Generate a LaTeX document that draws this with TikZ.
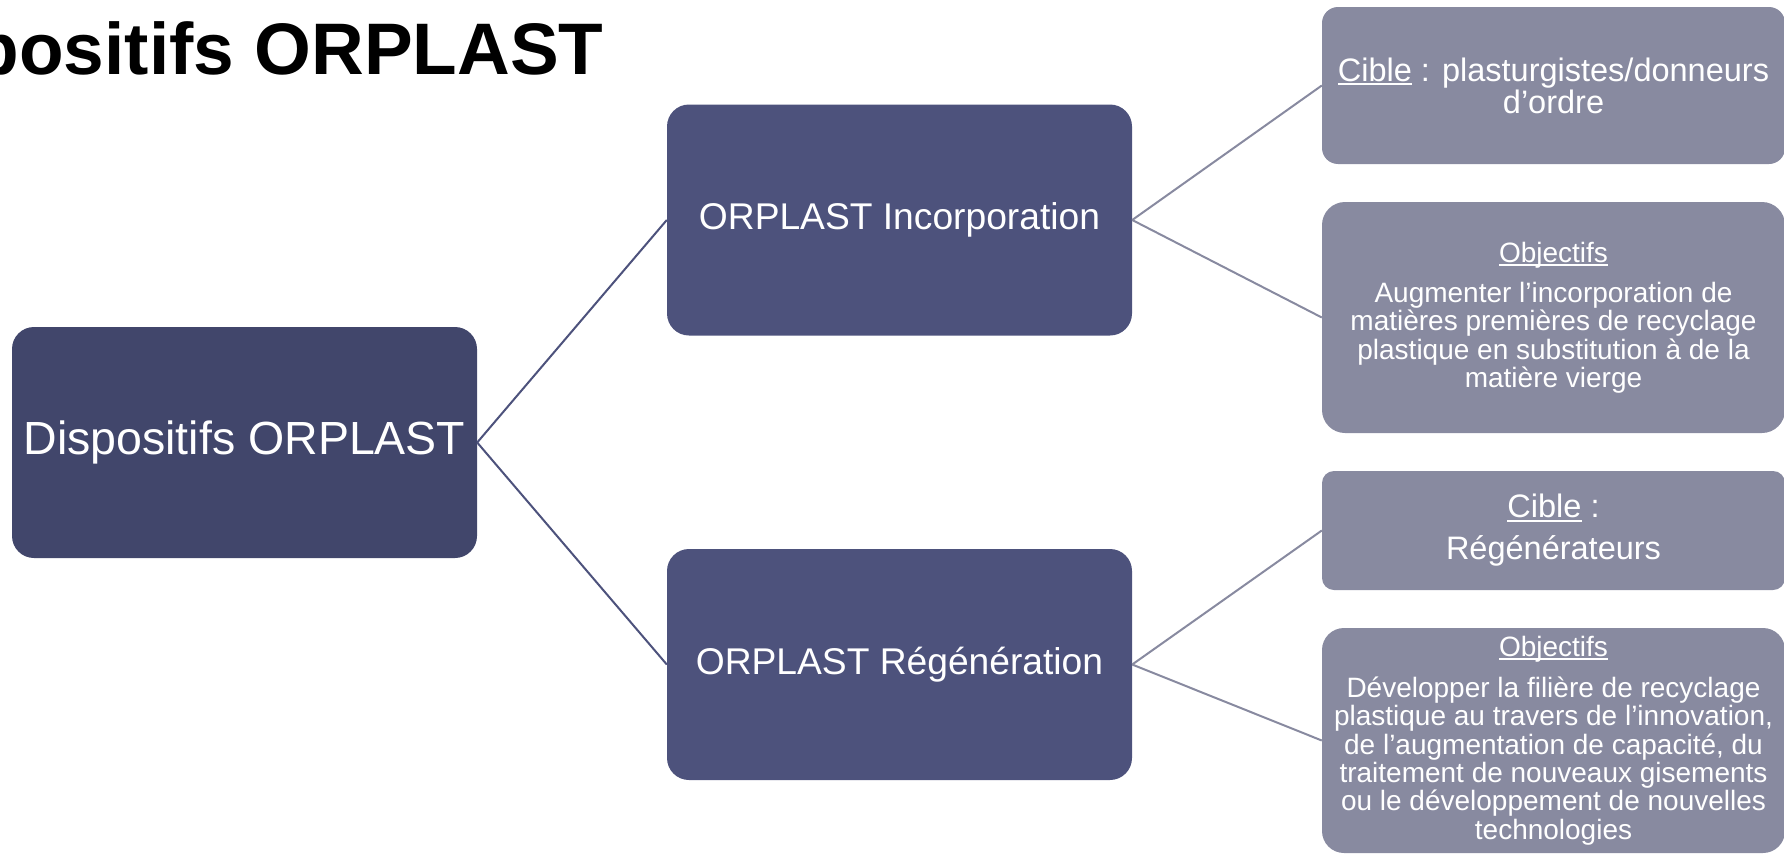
\documentclass[tikz,border=0pt]{standalone}
\usepackage{fontspec}
\setmainfont{Liberation Sans}
\usepackage{tikz}
\definecolor{rootcolor}{HTML}{41466B}
\definecolor{midcolor}{HTML}{4D527C}
\definecolor{leafcolor}{HTML}{888AA0}
\newcommand{\souligne}[1]{\setbox0\hbox{#1}\rlap{\rule[-0.13em]{\wd0}{0.06em}}\box0\relax}

\begin{document}
\begin{tikzpicture}[x=1pt,y=-1pt,
    box/.style={rounded corners=22pt,inner sep=0pt,align=center,text=white,minimum width=465pt,minimum height=231pt},
    leaf/.style={fill=leafcolor,rounded corners=#1,inner sep=0pt,align=center,text=white,minimum width=463pt}]
\useasboundingbox (0,0) rectangle (1784,854);
\clip (0,0) rectangle (1784,854);
%% titre
\node[anchor=base west,inner sep=0pt,font=\fontsize{73}{80}\selectfont\bfseries] (titre) at (-139,74) {Dispositifs ORPLAST};

\node[box,fill=rootcolor,font=\fontsize{46.5}{50}\selectfont] (racine) at (244.5,442.5) {Dispositifs ORPLAST};
\node[box,fill=midcolor,font=\fontsize{37.2}{40}\selectfont] (incorp) at (899.5,220) {ORPLAST Incorporation};
\node[box,fill=midcolor,font=\fontsize{37.2}{40}\selectfont] (regen) at (899.5,664.5) {ORPLAST Régénération};

\node[leaf=16pt,minimum height=157pt,font=\fontsize{32.5}{32}\selectfont] (cibleinc) at (1553.5,85.5) {\souligne{Cible} : plasturgistes/donneurs\\d’ordre};
\node[leaf=23pt,minimum height=231pt,font=\fontsize{28}{28.3}\selectfont] (objinc) at (1553.5,317.5) {\souligne{Objectifs}\\[12pt]Augmenter l’incorporation de\\matières premières de recyclage\\plastique en substitution à de la\\matière vierge};
\node[leaf=12pt,minimum height=119pt,font=\fontsize{32.5}{32.5}\selectfont] (ciblereg) at (1553.5,530.5) {\souligne{Cible} :\\[9.5pt]Régénérateurs};
\node[leaf=22pt,minimum height=225pt,font=\fontsize{28}{28.3}\selectfont] (objreg) at (1553.5,740.5) {\souligne{Objectifs}\\[13pt]Développer la filière de recyclage\\plastique au travers de l’innovation,\\de l’augmentation de capacité, du\\traitement de nouveaux gisements\\ou le développement de nouvelles\\technologies};

\foreach \a/\b in {racine/incorp, racine/regen}
  \draw[midcolor,line width=2pt] (\a.east) -- (\b.west);
\foreach \a/\b in {incorp/cibleinc, incorp/objinc, regen/ciblereg, regen/objreg}
  \draw[leafcolor,line width=2pt] (\a.east) -- (\b.west);
\end{tikzpicture}
\end{document}
